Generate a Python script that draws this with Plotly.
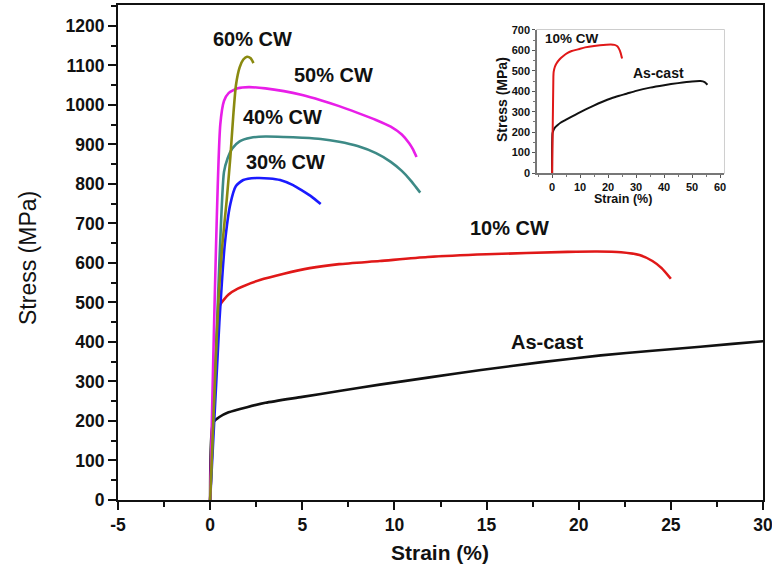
import plotly.graph_objects as go

# ---------------- data ----------------
ascast_strain = [0, 0.16, 0.5, 1, 2, 3, 5, 7, 9.2, 12, 14.7, 18, 21.2, 24, 26.6, 30, 35, 40, 45, 50, 53, 54.5, 55.5]
ascast_stress = [0, 195, 210, 222, 235, 246, 261, 276, 292, 311, 329, 349, 366, 378, 388, 402, 418, 430, 440, 448, 450, 445, 432]

cw10_strain = [0, 0.45, 0.55, 1, 1.5, 2.7, 4, 5.4, 7, 9.2, 11.8, 15, 19.4, 21, 22.3, 23.3, 24, 24.5, 25]
cw10_stress = [0, 470, 495, 520, 535, 557, 573, 587, 597, 605, 615, 622, 628, 629, 627, 620, 605, 587, 560]

cw30_strain = [0, 0.5, 0.8, 1.1, 1.4, 1.8, 2.5, 3.2, 3.8, 4.5, 5.0, 5.5, 6.0]
cw30_stress = [0, 450, 650, 750, 795, 810, 815, 814, 810, 797, 783, 768, 749]

cw40_strain = [0, 0.5, 0.75, 0.95, 1.2, 1.6, 2.2, 3, 4, 5, 6, 7, 8, 9, 9.8, 10.4, 10.9, 11.2, 11.4]
cw40_stress = [0, 600, 830, 865, 890, 908, 917, 920, 919, 917, 914, 907, 896, 878, 856, 833, 808, 790, 778]

cw50_strain = [0, 0.55, 0.75, 1.0, 1.5, 2.1, 3, 4, 5, 6, 7, 8, 9, 9.8, 10.4, 10.8, 11.0, 11.2]
cw50_stress = [0, 950, 1010, 1030, 1042, 1045, 1042, 1035, 1025, 1012, 997, 980, 962, 945, 925, 903, 888, 868]

cw60_strain = [0, 0.3, 0.45, 0.65, 0.9, 1.1, 1.25, 1.4, 1.6, 1.8, 2.0, 2.2, 2.35]
cw60_stress = [0, 350, 506, 640, 760, 870, 970, 1050, 1095, 1115, 1122, 1118, 1106]

main_xticks = [-5, 0, 5, 10, 15, 20, 25, 30]
main_xticktext = ["-5", "0", "5", "10", "15", "20", "25", "30"]
main_yticks = [0, 100, 200, 300, 400, 500, 600, 700, 800, 900, 1000, 1100, 1200]
inset_xticks = [0, 10, 20, 30, 40, 50, 60]
inset_yticks = [0, 100, 200, 300, 400, 500, 600, 700]

curve_labels = ["60% CW", "50% CW", "40% CW", "30% CW", "10% CW", "As-cast"]
label_x = [2.28, 6.68, 3.91, 4.08, 16.25, 18.3]
label_y = [1167, 1076, 970, 856, 689, 400]

# ---------------- styling ----------------
C_BLACK = "#111111"
C_RED = "#e01818"
C_BLUE = "#1a1aff"
C_TEAL = "#3d8a86"
C_MAG = "#e81ee8"
C_OLIVE = "#8a8a10"
FONT = "Liberation Sans, Arial, sans-serif"

fig = go.Figure()

main_series = [
    (ascast_strain, ascast_stress, C_BLACK),
    (cw10_strain, cw10_stress, C_RED),
    (cw30_strain, cw30_stress, C_BLUE),
    (cw40_strain, cw40_stress, C_TEAL),
    (cw50_strain, cw50_stress, C_MAG),
    (cw60_strain, cw60_stress, C_OLIVE),
]
for xs, ys, col in main_series:
    fig.add_trace(go.Scatter(x=xs, y=ys, mode="lines",
                             line=dict(color=col, width=2.6, shape="spline", smoothing=0.6),
                             showlegend=False, hoverinfo="skip", xaxis="x", yaxis="y"))

# inset traces
for xs, ys, col in [(ascast_strain, ascast_stress, C_BLACK), (cw10_strain, cw10_stress, C_RED)]:
    fig.add_trace(go.Scatter(x=xs, y=ys, mode="lines",
                             line=dict(color=col, width=2.0, shape="spline", smoothing=0.6),
                             showlegend=False, hoverinfo="skip", xaxis="x2", yaxis="y2"))

def ann(text, x, y, xref, yref, size, weight="bold", angle=0):
    return dict(x=x, y=y, xref=xref, yref=yref, text=text, showarrow=False,
                xanchor="center", yanchor="middle", textangle=angle,
                font=dict(family=FONT, size=size, color="#111", weight=weight))

annotations = []
for t, x, y in zip(curve_labels, label_x, label_y):
    annotations.append(ann(t, x, y, "x", "y", 20))
# inset labels
annotations.append(ann("10% CW", 7.1, 656, "x2", "y2", 13.5))
annotations.append(ann("As-cast", 37.9, 489, "x2", "y2", 14))
# axis titles (main), paper coords relative to plot area (x 118..763, y 5..500 px)
annotations.append(ann("Stress (MPa)", (28 - 118) / 645, (500 - 258) / 495, "paper", "paper", 23,
                       weight="normal", angle=-90))
annotations.append(ann("Strain (%)", (440 - 118) / 645, (500 - 552) / 495, "paper", "paper", 21))
# inset axis titles
annotations.append(ann("Stress (MPa)", (502 - 118) / 645, (500 - 100) / 495, "paper", "paper", 14,
                       angle=-90))
annotations.append(ann("Strain (%)", (623 - 118) / 645, (500 - 199) / 495, "paper", "paper", 12.5))

shapes = [
    dict(type="rect", xref="x2 domain", yref="y2 domain", x0=0, x1=1, y0=0, y1=1,
         line=dict(color="#bdbdbd", width=1.5), fillcolor="rgba(0,0,0,0)", layer="below"),
]

tickfont_main = dict(family=FONT, size=17.5, color="#111", weight="bold")
tickfont_inset = dict(family=FONT, size=11, color="#111", weight="bold")

fig.update_layout(
    width=772, height=575,
    margin=dict(l=118, r=9, t=5, b=75, autoexpand=False),
    paper_bgcolor="white", plot_bgcolor="white",
    annotations=annotations, shapes=shapes,
    xaxis=dict(range=[-5, 30], tickvals=main_xticks, ticktext=main_xticktext,
               ticks="outside", ticklen=8, tickwidth=2, automargin=False,
               ticklabeloverflow="allow",
               tickcolor="#111", showline=True, linewidth=2, linecolor="#111", mirror=True,
               showgrid=False, zeroline=False, tickfont=tickfont_main,
               minor=dict(dtick=2.5, tick0=0, ticks="outside", ticklen=5, tickwidth=2, tickcolor="#111")),
    yaxis=dict(range=[0, 1253], tickvals=main_yticks, ticks="outside", ticklen=8, tickwidth=2,
               automargin=False, ticklabeloverflow="allow",
               tickcolor="#111", showline=True, linewidth=2, linecolor="#111", mirror=True,
               showgrid=False, zeroline=False, tickfont=tickfont_main,
               minor=dict(dtick=50, tick0=0, ticks="outside", ticklen=5, tickwidth=2, tickcolor="#111")),
    xaxis2=dict(domain=[0.6496, 0.9395], anchor="y2", range=[-5.4, 61.4], tickvals=inset_xticks,
                ticks="outside", ticklen=3, tickwidth=1.2, tickcolor="#555", automargin=False,
                showline=True, linewidth=1.5, linecolor="#777", mirror=False,
                showgrid=False, zeroline=False, tickfont=tickfont_inset,
                minor=dict(dtick=5, tick0=0, ticks="outside", ticklen=2, tickwidth=1, tickcolor="#777")),
    yaxis2=dict(domain=[0.6606, 0.9495], anchor="x2", range=[0, 700], tickvals=inset_yticks,
                ticks="outside", ticklen=3, tickwidth=1.2, tickcolor="#555", automargin=False,
                showline=True, linewidth=1.5, linecolor="#777", mirror=False,
                showgrid=False, zeroline=False, tickfont=tickfont_inset,
                minor=dict(dtick=50, tick0=0, ticks="outside", ticklen=2, tickwidth=1, tickcolor="#777")),
)

fig.write_html("out.html")
